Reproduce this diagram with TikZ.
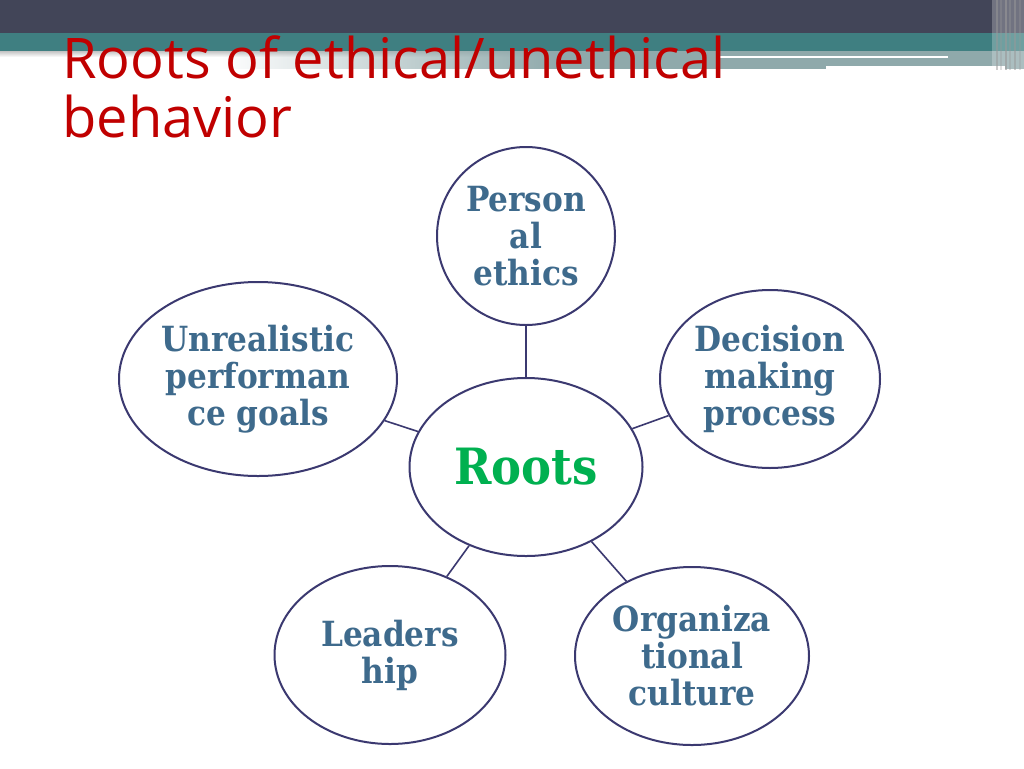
\documentclass[tikz,border=0pt]{standalone}
\usepackage{fontspec}
\setmainfont{DejaVu Serif}
\newfontfamily\titlefont{Open Sans}
\newfontfamily\nodefont[FakeStretch=0.9]{DejaVu Serif}
\usetikzlibrary{shapes.geometric,fadings}
\definecolor{hdark}{HTML}{424558}
\definecolor{hteal}{HTML}{3F7F81}
\definecolor{hband}{HTML}{8FA9AB}
\definecolor{titlered}{HTML}{C00000}
\definecolor{nodetext}{HTML}{3E6A8C}
\definecolor{rootgreen}{HTML}{00B050}
\definecolor{edgecol}{HTML}{3B3970}
\tikzfading[name=fadeleft, left color=transparent!100, right color=transparent!0]
\tikzset{
  bubble/.style={ellipse, draw=edgecol, line width=1.5pt, inner sep=0pt,
    align=center, text=nodetext,
    font=\nodefont\bfseries\fontsize{26}{27.75}\selectfont},
  link/.style={draw=edgecol, line width=1.2pt}
}
\begin{document}
\begin{tikzpicture}[x=0.75pt,y=-0.75pt]
\useasboundingbox (0,0) rectangle (1024,768);
\fill[white] (0,0) rectangle (1024,768);
% header
\shade[top color=black!35, bottom color=white] (0,48) rectangle (1024,57);
\fill[hband, path fading=fadeleft] (220,50) rectangle (560,69);
\fill[hband] (560,50) rectangle (1024,69);
\fill[hdark] (0,0) rectangle (1024,33);
\fill[hteal] (0,33) rectangle (1024,51);
\draw[white, line width=2.2pt] (720,57) -- (948,57);
\draw[white, line width=2.2pt] (826,67.5) -- (1005,67.5);
\fill[white, opacity=0.25] (992,0) rectangle (1024,70);
\foreach \xx/\op in {997/0.5,1001/0.3,1006/0.6,1010/0.35,1015/0.5,1020/0.3}
  \draw[black!40, opacity=\op, line width=1pt] (\xx,0) -- (\xx,70);
% title
\node[anchor=base west, inner sep=0pt, text=titlered,
  font=\titlefont\fontsize{42}{45}\selectfont] (title) at (62,78.5) {Roots of ethical/unethical};
\node[anchor=base west, inner sep=0pt, text=titlered,
  font=\titlefont\fontsize{42}{45}\selectfont] (title2) at (62,137.5) {behavior};
% nodes
\node[bubble, minimum width=233*0.75pt, minimum height=178*0.75pt,
  text=rootgreen, font=\nodefont\bfseries\fontsize{37.5}{40}\selectfont] (roots) at (526,467) {Roots};
\node[bubble, minimum width=178*0.75pt, minimum height=178*0.75pt] (pers) at (526,236) {Person\\al\\ethics};
\node[bubble, minimum width=278*0.75pt, minimum height=194*0.75pt] (unreal) at (258,379) {Unrealistic\\performan\\ce goals};
\node[bubble, minimum width=220*0.75pt, minimum height=178*0.75pt] (dec) at (770,379) {Decision\\making\\process};
\node[bubble, minimum width=231*0.75pt, minimum height=178*0.75pt] (lead) at (390,655) {Leaders\\hip};
\node[bubble, minimum width=234*0.75pt, minimum height=178*0.75pt] (org) at (692,656) {Organiza\\tional\\culture};
% connectors
\draw[link] (pers) -- (roots);
\draw[link] (unreal) -- (roots);
\draw[link] (dec) -- (roots);
\draw[link] (lead) -- (roots);
\draw[link] (org) -- (roots);
\end{tikzpicture}
\end{document}
